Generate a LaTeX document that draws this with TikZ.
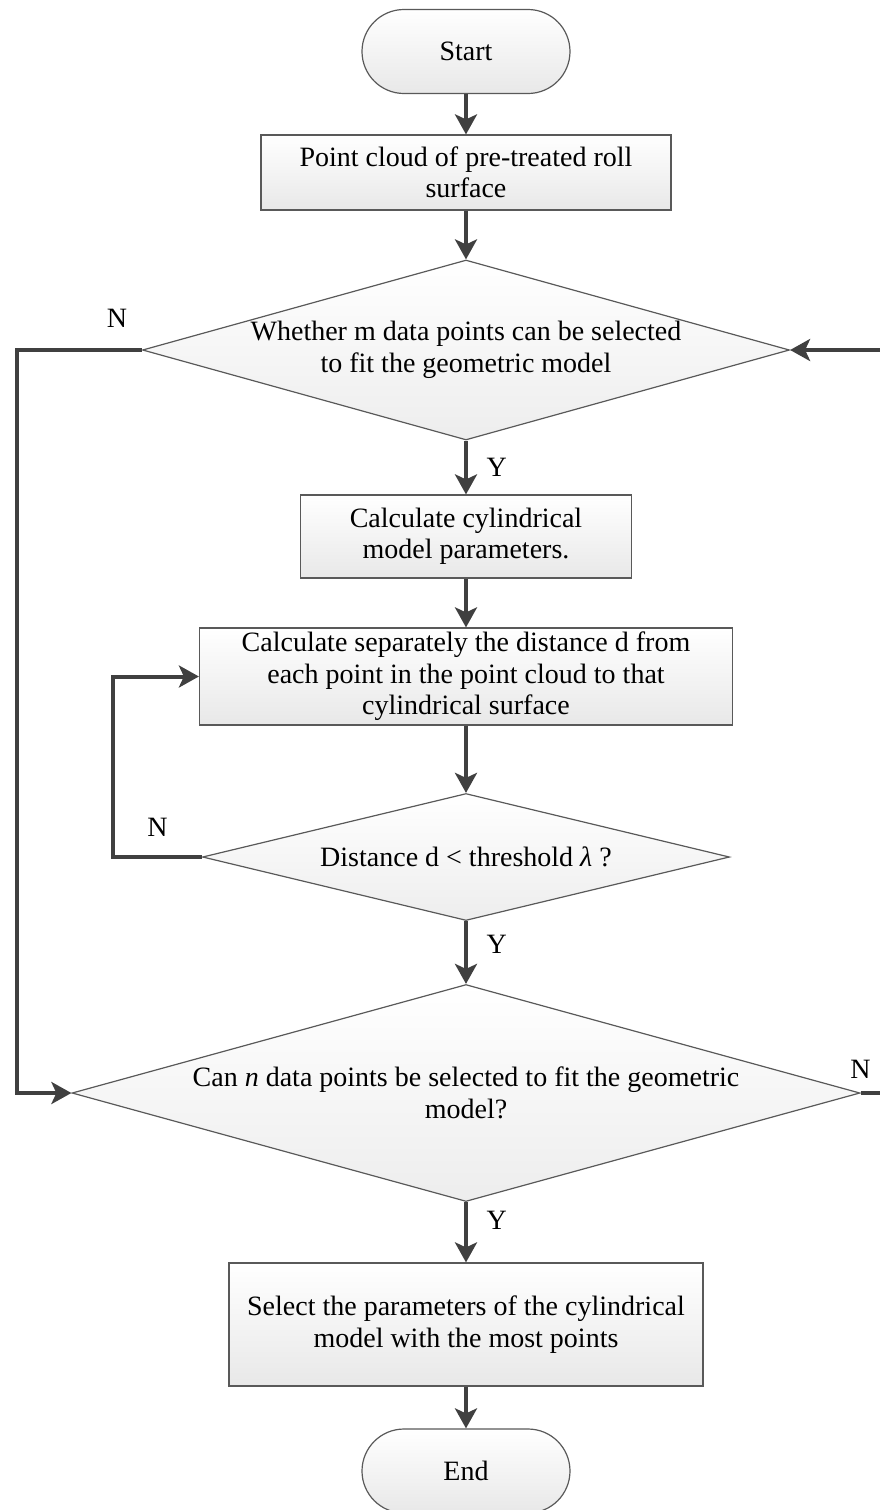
\documentclass[tikz,border=0pt]{standalone}
\usepackage{fontspec}
\setmainfont{Liberation Serif}
\usetikzlibrary{shapes.geometric, arrows.meta}
\tikzstyle{startstop} = [rectangle, rounded corners=21pt, minimum width=104pt, minimum height=42pt, text centered, draw=black!65, line width=0.6pt, top color=white, bottom color=black!9]
\tikzstyle{process} = [rectangle, align=center, text centered, inner ysep=1pt, draw=black!65, line width=0.6pt, top color=white, bottom color=black!9]
\tikzstyle{decision} = [diamond, align=center, inner sep=0pt, text centered, draw=black!65, line width=0.6pt, top color=white, bottom color=black!7]
\tikzstyle{arrow} = [line width=2pt, draw=black!75, -{Stealth[length=10pt, width=11pt, inset=2.5pt]}]

\begin{document}
\begin{tikzpicture}[node distance=70pt, font=\fontsize{14pt}{15.75pt}\selectfont]
        \useasboundingbox (-233pt,25.75pt) rectangle (206.5pt,-729.25pt);
        \node (start) [startstop] {Start};
        \node (pro1) [process, minimum width=205pt, minimum height=37.5pt, below of=start, yshift=9.5pt] {Point cloud of pre-treated roll\\surface};
        \node (dec1) [decision, aspect=3.6, minimum width=323.5pt, minimum height=90pt, below of=pro1, yshift=-18.75pt] {Whether m data points can be selected\\to fit the geometric model};
        \node (pro2) [process, minimum width=165.5pt, minimum height=41.5pt, below of=dec1, yshift=-23.25pt] {Calculate cylindrical\\model parameters.};
        \node (pro3) [process, minimum width=266.5pt, minimum height=48.5pt, below of=pro2] {Calculate separately the distance d from\\each point in the point cloud to that\\cylindrical surface};
        \node (dec2) [decision, aspect=4.15, minimum width=263.5pt, minimum height=63.5pt, below of=pro3, yshift=-20.25pt] {Distance d < threshold \textit{λ} ?};
        \node (dec3) [decision, aspect=3.63, minimum width=394pt, minimum height=108.5pt, below of=dec2, yshift=-48pt] {Can \textit{n} data points be selected to fit the geometric\\model?};
        \node (pro4) [process, minimum width=237pt, minimum height=61.5pt, below of=dec3, yshift=-45.75pt] {Select the parameters of the cylindrical\\model with the most points};
        \node (stop) [startstop, below of=pro4, yshift=-3.25pt] {End};
        \draw [arrow] (start) -- (pro1);
        \draw [arrow] (pro1) -- (dec1);
        \draw [arrow] (dec1) -- node[anchor=west, xshift=6pt]{Y} (pro2);
        \draw [arrow] (pro2) -- (pro3);
        \draw [arrow] (pro3) -- (dec2);
        \draw [arrow] (dec2) -- node[anchor=west, xshift=6pt, yshift=4pt]{Y} (dec3);
        \draw [arrow] (dec3) -- node[anchor=west, xshift=6pt, yshift=6pt]{Y} (pro4);
        \draw [arrow] (pro4) -- (stop);
        % loops back with N
        \draw [arrow] (dec2.west) -- node[anchor=south, yshift=6pt]{N} ++(-44.5pt,0) |- (pro3.west);
        \draw [arrow] (dec1.west) -- node[pos=0.2, anchor=south, yshift=7pt]{N} ++(-62.5pt,0) |- (dec3.west);
        \draw [arrow] (dec3.east) -- node[pos=0, anchor=south, yshift=3pt]{N} ++(11.5pt,0) |- (dec1.east);

      \end{tikzpicture}
\end{document}
